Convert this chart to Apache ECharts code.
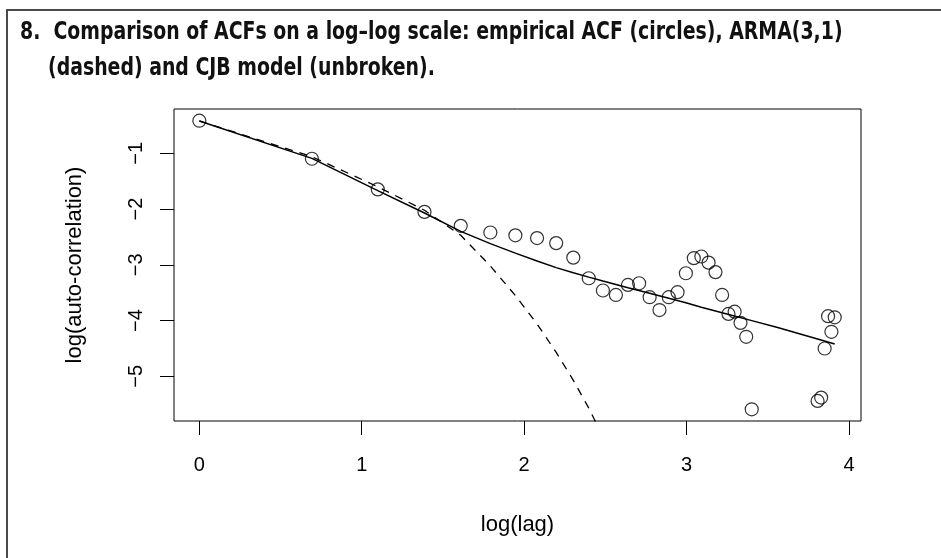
<!DOCTYPE html>
<html>
<head>
<meta charset="utf-8">
<script src="https://cdn.jsdelivr.net/npm/echarts@6/dist/echarts.min.js"></script>
<style>
html,body{margin:0;padding:0;background:#fff;}
#chart{width:941px;height:558px;}
</style>
</head>
<body>
<div id="chart"></div>
<script>
// Empirical ACF (circles): lags and log(acf)
var empLags = [1,2,3,4,5,6,7,8,9,10,11,12,13,14,15,16,17,18,19,20,21,22,23,24,25,26,27,28,29,30,45,46,47,48,49,50];
var empLogAcf = [-0.415,-1.097,-1.646,-2.05,-2.30,-2.42,-2.47,-2.52,-2.61,-2.87,-3.24,-3.46,-3.54,-3.36,-3.33,-3.58,-3.81,-3.58,-3.49,-3.15,-2.88,-2.85,-2.96,-3.13,-3.54,-3.88,-3.84,-4.04,-4.29,-5.59,-5.44,-5.38,-4.50,-3.92,-4.20,-3.94];
// ARMA(3,1) model ACF (dashed)
var armaLags = [1,2,3,4,5,6,7,8,9,10,11,12];
var armaLogAcf = [-0.42,-1.06,-1.60,-2.02,-2.47,-3.02,-3.55,-4.06,-4.57,-5.07,-5.57,-6.08];
// CJB model ACF (unbroken)
var cjbLags = [1,2,3,4,5,6,7,8,9,10,11,12,14,16,18,20,22,25,30,35,40,45,50];
var cjbLogAcf = [-0.42,-1.09,-1.67,-2.07,-2.40,-2.62,-2.79,-2.93,-3.05,-3.14,-3.22,-3.29,-3.41,-3.51,-3.60,-3.68,-3.76,-3.86,-4.00,-4.12,-4.23,-4.33,-4.42];
// Axis ticks
var xTicks = [0,1,2,3,4];
var yTicks = [-5,-4,-3,-2,-1];

function pairs(lags, vals){
  return lags.map(function(l,i){ return [Math.log(l), vals[i]]; });
}

var chart = echarts.init(document.getElementById('chart'), null, {renderer:'canvas'});
var axisFont = "'Liberation Sans', Arial, sans-serif";
var titleFont = "'Liberation Sans Narrow', 'DejaVu Sans Condensed', sans-serif";

chart.setOption({
  animation:false,
  backgroundColor:'#fff',
  graphic:[
    {type:'rect', shape:{x:7,y:10,width:1200,height:1200}, style:{fill:'none', stroke:'#4a4a4a', lineWidth:2}, z:0},
    {type:'text', x:20, y:20, scaleX:0.84, style:{text:'8.  Comparison of ACFs on a log\u2013log scale: empirical ACF (circles), ARMA(3,1)', font:'bold 25px ' + titleFont, fill:'#111'}},
    {type:'text', x:48, y:56, scaleX:0.84, style:{text:'(dashed) and CJB model (unbroken).', font:'bold 25px ' + titleFont, fill:'#111'}}
  ],
  grid:{left:174, top:109, width:687, height:312, show:true, borderColor:'#000', borderWidth:1, backgroundColor:'transparent'},
  xAxis:{
    type:'value', min:-0.156, max:4.074,
    name:'log(lag)', nameLocation:'middle', nameGap:93,
    nameTextStyle:{fontFamily:axisFont, fontSize:22, color:'#000'},
    axisLine:{show:false, onZero:false},
    axisTick:{show:true, length:14, customValues:xTicks, lineStyle:{color:'#000', width:1}},
    axisLabel:{customValues:xTicks, fontFamily:axisFont, fontSize:20, color:'#000', margin:34},
    splitLine:{show:false}
  },
  yAxis:{
    type:'value', min:-5.80, max:-0.205,
    name:'log(auto-correlation)', nameLocation:'middle', nameGap:88,
    nameTextStyle:{fontFamily:axisFont, fontSize:22, color:'#000'},
    axisLine:{show:false, onZero:false},
    axisTick:{show:true, length:14, customValues:yTicks, lineStyle:{color:'#000', width:1}},
    axisLabel:{customValues:yTicks, rotate:90, fontFamily:axisFont, fontSize:20, color:'#000', margin:28,
      formatter:function(v){ return String(v).replace('-', '\u2212'); }},
    splitLine:{show:false}
  },
  series:[
    {type:'line', data:pairs(cjbLags, cjbLogAcf), showSymbol:false, symbol:'none', lineStyle:{color:'#000', width:1.5}, z:3, clip:true},
    {type:'line', data:pairs(armaLags, armaLogAcf), showSymbol:false, symbol:'none', lineStyle:{color:'#000', width:1.3, type:[8,7]}, z:3, clip:true},
    {type:'scatter', data:pairs(empLags, empLogAcf), symbol:'circle', symbolSize:13,
      itemStyle:{color:'transparent', borderColor:'#000', borderWidth:1.2}, z:4}
  ]
});
</script>
</body>
</html>
